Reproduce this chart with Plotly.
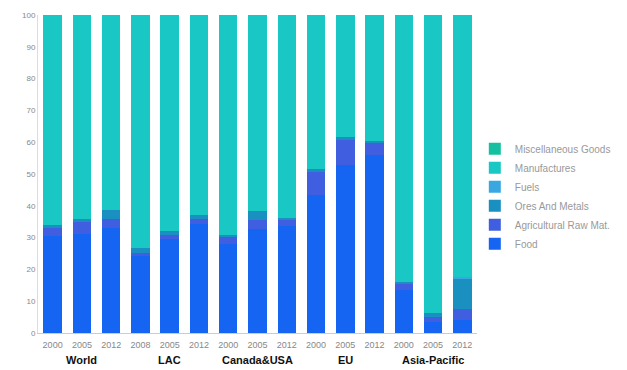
import plotly.graph_objects as go

years = ["2000", "2005", "2012", "2008", "2005", "2012", "2000", "2005", "2012",
         "2000", "2005", "2012", "2000", "2005", "2012"]
regions = ["World", "LAC", "Canada&USA", "EU", "Asia-Pacific"]

food = [30.5, 31, 33, 24.2, 29.7, 34.2, 28, 32.6, 33.5, 43.4, 52.7, 56, 13.4, 3.5, 4]
agri = [2.5, 4, 2.7, 1.0, 1.0, 1.5, 2.4, 3.0, 2.2, 7.2, 8.3, 4.0, 2.1, 1.5, 3.7]
ores = [1.0, 1.0, 3.1, 1.6, 1.3, 1.5, 0.5, 2.8, 0.5, 0.9, 0.5, 0.5, 0.5, 1.3, 9.3]
fuels = [0, 0, 0, 0, 0, 0, 0, 0, 0, 0, 0, 0, 0, 0, 0.5]
manuf = [66.0, 64.0, 61.2, 73.2, 68.0, 62.8, 69.1, 61.6, 63.8, 48.5, 38.5, 39.5, 84.0, 93.7, 82.5]
misc = [0, 0, 0, 0, 0, 0, 0, 0, 0, 0, 0, 0, 0, 0, 0]

series = [
    ("Food", food, "#1565f2"),
    ("Agricultural Raw Mat.", agri, "#3f5fe0"),
    ("Ores And Metals", ores, "#1a90c0"),
    ("Fuels", fuels, "#3aa8e0"),
    ("Manufactures", manuf, "#19c8c4"),
    ("Miscellaneous Goods", misc, "#15c0a0"),
]

x = list(range(len(years)))
fig = go.Figure()
for name, vals, col in series:
    fig.add_trace(go.Bar(x=x, y=vals, name=name, marker=dict(color=col, line=dict(width=0))))

for i, r in enumerate(regions):
    fig.add_annotation(x=3 * i + 1, y=-0.085, xref="x", yref="paper", text="<b>%s</b>" % r,
                       showarrow=False, yanchor="middle",
                       font=dict(family="Liberation Sans, Arial", size=11, color="#111111"))

fig.update_layout(
    width=627, height=370,
    margin=dict(l=38, r=145, t=11, b=37),
    barmode="stack", bargap=0.37,
    plot_bgcolor="white", paper_bgcolor="white",
    showlegend=True,
    legend=dict(x=0.995, y=0.43, xanchor="left", yanchor="middle",
                font=dict(family="Liberation Sans, Arial", size=10, color="#999999"),
                itemwidth=30, tracegroupgap=0, bgcolor="rgba(0,0,0,0)"),
    xaxis=dict(tickvals=x, ticktext=years, range=[-0.5, 14.5], showgrid=False,
               showline=True, linecolor="#cccccc", ticks="outside", ticklen=3,
               tickcolor="rgba(0,0,0,0)", zeroline=False,
               tickfont=dict(family="Liberation Sans, Arial", size=9, color="#888888")),
    yaxis=dict(range=[0, 100], tickvals=list(range(0, 101, 10)), showgrid=False,
               showline=True, linecolor="#dddddd", ticks="", zeroline=False,
               tickfont=dict(family="Liberation Sans, Arial", size=8, color="#888888")),
)

fig.write_html("out.html", config={"displayModeBar": False},
               post_script="document.body.style.margin='0';")
